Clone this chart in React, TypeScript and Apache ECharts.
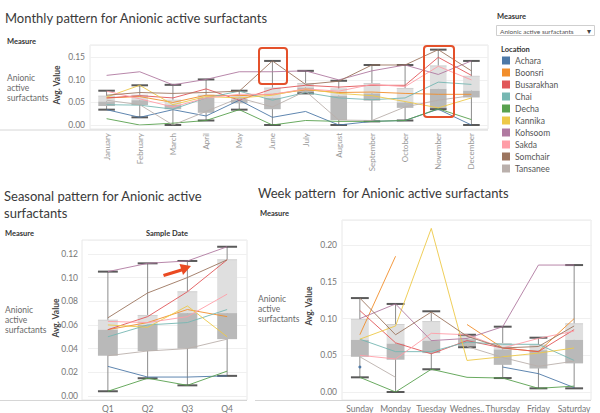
import React, { useEffect, useRef } from "react";
import * as echarts from "echarts";

// ---------- categories ----------
const locations = ["Achara", "Boonsri", "Busarakhan", "Chai", "Decha", "Kannika", "Kohsoom", "Sakda", "Somchair", "Tansanee"];
const locationColors = ["#4e79a7", "#f28e2b", "#e15759", "#76b7b2", "#59a14f", "#edc948", "#b07aa1", "#ff9da7", "#9c755f", "#bab0ac"];
const months = ["January", "February", "March", "April", "May", "June", "July", "August", "September", "October", "November", "December"];
const quarters = ["Q1", "Q2", "Q3", "Q4"];
const weekdays = ["Sunday", "Monday", "Tuesday", "Wednes..", "Thursday", "Friday", "Saturday"];

// ---------- monthly averages (rows follow `locations`) ----------
const monthlyAchara = [0.034, 0.017, 0.034, 0.02, 0.055, 0.017, 0.03, 0.0, 0.008, 0.01, 0.035, 0.0];
const monthlyBoonsri = [0.06, 0.063, 0.05, 0.066, 0.065, 0.068, 0.078, 0.072, 0.073, 0.07, 0.068, 0.068];
const monthlyBusarakhan = [0.06, 0.065, 0.06, 0.08, 0.055, 0.08, 0.088, 0.084, 0.088, 0.088, 0.15, 0.11];
const monthlyChai = [0.045, 0.044, 0.035, 0.06, 0.075, 0.055, 0.072, 0.06, 0.056, 0.06, 0.095, 0.09];
const monthlyDecha = [0.014, 0.0, 0.004, 0.01, 0.034, 0.0, 0.01, 0.008, 0.008, 0.01, 0.036, 0.012];
const monthlyKannika = [0.062, 0.088, 0.045, 0.063, 0.06, 0.066, 0.08, 0.07, 0.065, 0.052, 0.038, 0.06];
const monthlyKohsoom = [0.11, 0.118, 0.089, 0.101, 0.118, 0.118, 0.12, 0.1, 0.12, 0.133, 0.112, 0.142];
const monthlySakda = [0.075, 0.058, 0.04, 0.06, 0.068, 0.068, 0.08, 0.075, 0.09, 0.085, 0.13, 0.1];
const monthlySomchair = [0.066, 0.072, 0.07, 0.072, 0.075, 0.142, 0.09, 0.097, 0.133, 0.133, 0.167, 0.12];
const monthlyTansanee = [0.055, 0.045, 0.0, 0.03, 0.06, 0.04, 0.075, 0.011, 0.01, 0.04, 0.055, 0.065];
// box plot per month: [low whisker, Q1, median, Q3, high whisker]
const monthlyBox = [
  [0.034, 0.042, 0.052, 0.064, 0.076],
  [0.017, 0.044, 0.055, 0.066, 0.088],
  [0.0, 0.035, 0.045, 0.055, 0.089],
  [0.01, 0.027, 0.06, 0.066, 0.101],
  [0.034, 0.048, 0.056, 0.065, 0.076],
  [0.0, 0.035, 0.06, 0.082, 0.142],
  [0.07, 0.071, 0.083, 0.092, 0.12],
  [0.0, 0.011, 0.065, 0.08, 0.098],
  [0.008, 0.054, 0.07, 0.092, 0.133],
  [0.01, 0.038, 0.05, 0.081, 0.133],
  [0.035, 0.035, 0.08, 0.131, 0.167],
  [0.0, 0.061, 0.076, 0.108, 0.142],
];

// ---------- quarterly averages ----------
const seasonAchara = [0.025, 0.016, 0.016, 0.017];
const seasonBoonsri = [0.056, 0.062, 0.073, 0.067];
const seasonBusarakhan = [0.056, 0.067, 0.088, 0.115];
const seasonChai = [0.05, 0.06, 0.062, 0.073];
const seasonDecha = [0.004, 0.015, 0.009, 0.021];
const seasonKannika = [0.06, 0.058, 0.076, 0.05];
const seasonKohsoom = [0.105, 0.112, 0.114, 0.126];
const seasonSakda = [0.063, 0.062, 0.067, 0.086];
const seasonSomchair = [0.066, 0.087, 0.1, 0.115];
const seasonTansanee = [0.034, 0.038, 0.04, 0.048];
const seasonBox = [
  [0.004, 0.034, 0.056, 0.064, 0.105],
  [0.015, 0.038, 0.06, 0.068, 0.112],
  [0.009, 0.04, 0.07, 0.088, 0.114],
  [0.017, 0.048, 0.07, 0.115, 0.126],
];

// ---------- weekday averages ----------
const weekAchara = [0.034, null, null, null, 0.034, 0.025, 0.006];
const weekBoonsri = [0.078, 0.185, null, 0.092, 0.06, 0.055, 0.1];
const weekBusarakhan = [0.111, 0.067, 0.052, 0.07, 0.06, 0.055, 0.085];
const weekChai = [0.072, 0.055, 0.055, 0.068, 0.065, 0.065, 0.043];
const weekDecha = [0.02, 0.0, 0.031, 0.02, 0.019, 0.005, 0.008];
const weekKannika = [0.072, 0.09, 0.223, 0.043, 0.048, 0.053, 0.06];
const weekKohsoom = [0.1, 0.12, 0.07, 0.073, 0.089, 0.173, 0.173];
const weekSakda = [0.05, 0.045, 0.08, 0.078, 0.06, 0.073, 0.083];
const weekSomchair = [0.128, 0.078, 0.109, 0.076, 0.06, 0.062, 0.09];
const weekTansanee = [0.048, 0.02, null, 0.062, 0.047, 0.035, 0.042];
const weekBox = [
  [0.02, 0.048, 0.071, 0.099, 0.128],
  [0.0, 0.044, 0.066, 0.092, 0.12],
  [0.031, 0.053, 0.07, 0.096, 0.11],
  [0.061, 0.062, 0.072, 0.076, 0.078],
  [0.019, 0.037, 0.058, 0.066, 0.089],
  [0.005, 0.032, 0.057, 0.064, 0.074],
  [0.005, 0.039, 0.071, 0.093, 0.173],
];

const monthlyRows = [monthlyAchara, monthlyBoonsri, monthlyBusarakhan, monthlyChai, monthlyDecha, monthlyKannika, monthlyKohsoom, monthlySakda, monthlySomchair, monthlyTansanee];
const seasonRows = [seasonAchara, seasonBoonsri, seasonBusarakhan, seasonChai, seasonDecha, seasonKannika, seasonKohsoom, seasonSakda, seasonSomchair, seasonTansanee];
const weekRows = [weekAchara, weekBoonsri, weekBusarakhan, weekChai, weekDecha, weekKannika, weekKohsoom, weekSakda, weekSomchair, weekTansanee];

const FONT = "Lato, 'Open Sans', sans-serif";

function tickFormatter(step: number) {
  return (v: number) => {
    const r = v / step;
    return Math.abs(r - Math.round(r)) < 1e-6 ? v.toFixed(2) : "";
  };
}

function boxSeries(idx: number, boxes: number[][]) {
  return {
    type: "custom",
    xAxisIndex: idx,
    yAxisIndex: idx,
    silent: true,
    z: 1,
    data: boxes.map((b, i) => [i, ...b]),
    encode: { x: 0, y: [1, 2, 3, 4, 5] },
    renderItem: (params: any, api: any) => {
      const i = api.value(0);
      const low = api.coord([i, api.value(1)]);
      const q1 = api.coord([i, api.value(2)]);
      const med = api.coord([i, api.value(3)]);
      const q3 = api.coord([i, api.value(4)]);
      const high = api.coord([i, api.value(5)]);
      const w = api.size([1, 0])[0] * 0.5;
      const cx = low[0];
      return {
        type: "group",
        children: [
          { type: "line", shape: { x1: cx, y1: low[1], x2: cx, y2: high[1] }, style: { stroke: "#8c8c8c", lineWidth: 1 } },
          { type: "rect", shape: { x: cx - w / 2, y: q3[1], width: w, height: med[1] - q3[1] }, style: { fill: "#dfdfdf" } },
          { type: "rect", shape: { x: cx - w / 2, y: med[1], width: w, height: q1[1] - med[1] }, style: { fill: "#b9b9b9" } },
          { type: "line", shape: { x1: cx - w / 2, y1: q3[1], x2: cx + w / 2, y2: q3[1] }, style: { stroke: "#d0d0d0", lineWidth: 1 } },
          { type: "line", shape: { x1: cx - w / 2, y1: high[1], x2: cx + w / 2, y2: high[1] }, style: { stroke: "#5a5a5a", lineWidth: 2 } },
          { type: "line", shape: { x1: cx - w / 2, y1: low[1], x2: cx + w / 2, y2: low[1] }, style: { stroke: "#5a5a5a", lineWidth: 2 } },
        ],
      };
    },
  };
}

function lineSeries(idx: number, rows: (number | null)[][]) {
  return rows.map((vals, k) => {
    const isolated = (j: number) =>
      vals[j] != null && (j === 0 || vals[j - 1] == null) && (j === vals.length - 1 || vals[j + 1] == null);
    return {
      type: "line",
      name: locations[k],
      xAxisIndex: idx,
      yAxisIndex: idx,
      data: vals,
      silent: true,
      z: 3,
      connectNulls: false,
      symbol: "circle",
      showSymbol: vals.some((_, j) => isolated(j)),
      symbolSize: (_v: any, p: any) => (isolated(p.dataIndex) ? 3 : 0),
      itemStyle: { color: locationColors[k] },
      lineStyle: { color: locationColors[k], width: 1, opacity: 0.9 },
    };
  });
}

function txt(text: string, x: number, y: number, size: number, opts: any = {}) {
  return {
    type: "text",
    x,
    y,
    silent: true,
    style: {
      text,
      fill: opts.fill || "#333",
      fontSize: size,
      fontFamily: FONT,
      fontWeight: opts.weight || "normal",
      align: opts.align || "left",
      textAlign: opts.align || "left",
      verticalAlign: "middle",
      textVerticalAlign: "middle",
    },
  };
}

function rowHeader(x: number, y: number) {
  const o = { fill: "#6a6a6a" };
  return [txt("Anionic", x, y, 8.5, o), txt("active", x, y + 10, 8.5, o), txt("surfactants", x, y + 20, 8.5, o)];
}

function paneRect(x: number, y: number, w: number, h: number) {
  return { type: "rect", silent: true, shape: { x, y, width: w, height: h }, style: { fill: "none", stroke: "#e8e8e8", lineWidth: 1 } };
}

function hline(x1: number, x2: number, y: number, color = "#d6d6d6") {
  return { type: "line", silent: true, shape: { x1, y1: y, x2, y2: y }, style: { stroke: color, lineWidth: 1 } };
}

function redBox(x: number, y: number, w: number, h: number) {
  return { type: "rect", silent: true, z: 100, shape: { x, y, width: w, height: h, r: 3 }, style: { fill: "none", stroke: "#e4512b", lineWidth: 2 } };
}

const yAxisBase = (idx: number, max: number, step: number, gap: number, labelMargin: number) => ({
  type: "value",
  gridIndex: idx,
  min: 0,
  max,
  interval: step,
  name: "Avg. Value",
  nameLocation: "middle",
  nameRotate: 90,
  nameGap: gap,
  nameMoveOverlap: false,
  nameTextStyle: { fontFamily: FONT, fontSize: 8.5, fontWeight: "bold", color: "#444" },
  axisLine: { show: false },
  axisTick: { show: false },
  axisLabel: { fontFamily: FONT, fontSize: 8.5, color: "#777", margin: labelMargin, formatter: tickFormatter(step) },
  splitLine: { lineStyle: { color: "#f0f0f0", width: 1 } },
});

const xAxisBase = (idx: number, data: string[], extra: any) => ({
  type: "category",
  gridIndex: idx,
  data,
  boundaryGap: true,
  axisLine: { show: false },
  axisTick: { show: false },
  splitLine: { show: false },
  axisLabel: { fontFamily: FONT, fontSize: 8.5, color: "#777", interval: 0, ...extra },
});

export default function App() {
  const ref = useRef<HTMLDivElement>(null);
  useEffect(() => {
    if (!ref.current) return;
    const chart = echarts.init(ref.current, null, { renderer: "svg" });
    const option: any = {
      animation: false,
      backgroundColor: "#ffffff",
      textStyle: { fontFamily: FONT },
      grid: [
        { left: 90, right: 112, top: 45, bottom: 288 },
        { left: 88, right: 353, top: 240, bottom: 15.7 },
        { left: 342, right: 8, top: 220, bottom: 20.7 },
      ],
      xAxis: [
        xAxisBase(0, months, { rotate: 90, margin: 8, fontSize: 8, color: "#9a9a9a" }),
        xAxisBase(1, quarters, { margin: 8 }),
        xAxisBase(2, weekdays, { margin: 12 }),
      ],
      yAxis: [
        yAxisBase(0, 0.1773, 0.05, 29, 5),
        yAxisBase(1, 0.1317, 0.02, 28, 10),
        yAxisBase(2, 0.2344, 0.05, 29, 5),
      ],
      legend: {
        data: locations,
        orient: "vertical",
        left: 502,
        top: 56,
        itemWidth: 8,
        itemHeight: 8,
        itemGap: 3,
        icon: "rect",
        selectedMode: false,
        padding: 0,
        textStyle: { fontFamily: FONT, fontSize: 8.5, color: "#555", lineHeight: 9 },
      },
      series: [
        boxSeries(0, monthlyBox),
        ...lineSeries(0, monthlyRows),
        boxSeries(1, seasonBox),
        ...lineSeries(1, seasonRows),
        boxSeries(2, weekBox),
        ...lineSeries(2, weekRows),
      ],
      graphic: [
        // titles
        txt("Monthly pattern for Anionic active surfactants", 5, 18, 13, { fill: "#3a3a3a" }),
        txt("Seasonal pattern for Anionic active", 4, 196, 13, { fill: "#3a3a3a" }),
        txt("surfactants", 4, 213, 13, { fill: "#3a3a3a" }),
        txt("Week pattern  for Anionic active surfactants", 258, 193, 13, { fill: "#3a3a3a" }),
        // headers
        txt("Measure", 7, 41, 7.5, { weight: "bold" }),
        txt("Measure", 5, 233, 7.5, { weight: "bold" }),
        txt("Sample Date", 167, 233, 7.5, { weight: "bold", align: "center" }),
        txt("Measure", 260, 213, 7.5, { weight: "bold" }),
        ...rowHeader(7, 78),
        ...rowHeader(5, 310),
        ...rowHeader(258, 299),
        // panes
        paneRect(90, 45, 398, 84),
        hline(0, 488, 130),
        paneRect(82, 240, 165, 160),
        hline(0, 247, 400.5),
        paneRect(342, 220, 249, 180),
        hline(255, 591, 400.5),
        // legend side
        txt("Measure", 497, 16, 7.5, { weight: "bold" }),
        { type: "rect", silent: true, shape: { x: 496.5, y: 25.5, width: 98, height: 10 }, style: { fill: "#fff", stroke: "#cfcfcf", lineWidth: 1 } },
        txt("Anionic active surfactants", 500, 31, 6.5, { fill: "#555" }),
        txt("\u25BE", 589, 31, 8, { fill: "#444", align: "center" }),
        txt("Location", 501, 49, 7.5, { weight: "bold" }),
        // annotations
        redBox(259, 48, 28, 36),
        redBox(424, 46, 30, 71),
        {
          type: "polygon",
          silent: true,
          z: 100,
          shape: { points: [[163, 274], [181, 268.5], [179.5, 264], [191, 266], [183, 275], [182, 271.5], [164, 277]] },
          style: { fill: "#ea4a22" },
        },
      ],
    };
    chart.setOption(option);
    return () => chart.dispose();
  }, []);
  return <div ref={ref} style={{ width: 600, height: 413, position: "absolute", left: 0, top: 0 }} />;
}
